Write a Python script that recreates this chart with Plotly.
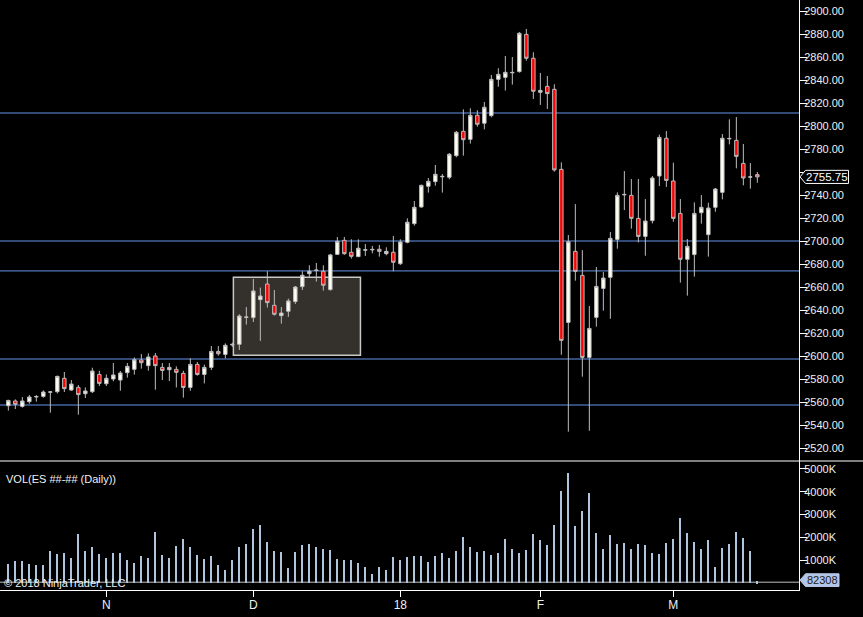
import plotly.graph_objects as go

# ---------------- data ----------------
opens = [2556.8, 2560.9, 2556.2, 2560.3, 2564.3, 2564.9, 2568.5, 2569.0, 2580.6, 2570.4,
         2572.7, 2567.2, 2569.0, 2584.0, 2575.9, 2580.0, 2579.1, 2585.5, 2588.4, 2596.5,
         2591.6, 2600.0, 2590.1, 2588.1, 2588.4, 2584.9, 2572.7, 2592.7, 2584.0, 2590.1,
         2604.0, 2601.4, 2609.6, 2610.2, 2633.5, 2633.4, 2649.0, 2662.6, 2644.1, 2635.1,
         2638.9, 2647.3, 2660.3, 2671.6, 2674.3, 2673.7, 2657.7, 2688.4, 2700.6, 2690.2,
         2686.4, 2692.0, 2692.3, 2692.8, 2689.0, 2690.2, 2680.3, 2698.9, 2715.1, 2729.6,
         2747.6, 2751.6, 2755.8, 2755.4, 2774.2, 2795.4, 2788.4, 2809.3, 2802.4, 2809.0,
         2840.6, 2842.3, 2846.2, 2847.3, 2879.7, 2858.9, 2829.3, 2834.5, 2831.9, 2762.3,
         2629.2, 2691.0, 2670.1, 2598.8, 2633.6, 2658.8, 2668.4, 2701.4, 2740.1, 2739.7,
         2719.7, 2704.0, 2717.7, 2756.5, 2789.3, 2752.2, 2724.0, 2684.1, 2688.2, 2724.6,
         2705.5, 2729.3, 2742.3, 2788.8, 2787.5, 2767.5, 2755.5, 2757.7]
highs = [2561.9, 2562.3, 2564.3, 2566.1, 2566.1, 2570.1, 2569.6, 2582.9, 2586.1, 2579.1,
         2574.8, 2572.7, 2589.8, 2587.2, 2584.0, 2593.9, 2587.0, 2593.9, 2598.8, 2601.7,
         2602.3, 2602.6, 2593.9, 2593.9, 2591.0, 2587.2, 2598.0, 2594.8, 2592.5, 2608.7,
         2608.7, 2611.0, 2611.5, 2636.3, 2642.6, 2667.0, 2659.5, 2673.7, 2657.4, 2642.6,
         2649.9, 2660.9, 2673.7, 2678.9, 2680.9, 2678.9, 2688.8, 2703.5, 2703.5, 2701.5,
         2701.5, 2697.4, 2695.7, 2696.6, 2694.5, 2704.4, 2701.5, 2719.7, 2734.8, 2749.0,
         2754.8, 2766.1, 2758.3, 2776.5, 2795.7, 2814.5, 2815.4, 2813.7, 2820.9, 2844.4,
         2850.2, 2860.9, 2860.0, 2881.8, 2884.4, 2864.1, 2846.1, 2843.5, 2836.3, 2768.4,
         2705.2, 2732.1, 2692.1, 2643.5, 2677.4, 2673.0, 2707.8, 2742.3, 2760.8, 2753.9,
         2753.9, 2736.5, 2756.5, 2792.5, 2795.6, 2768.1, 2736.5, 2701.7, 2733.6, 2740.0,
         2733.3, 2746.1, 2793.0, 2805.8, 2807.8, 2784.3, 2767.8, 2760.0]
lows = [2552.5, 2553.9, 2555.1, 2558.5, 2560.3, 2563.8, 2550.7, 2567.5, 2568.7, 2569.8,
        2549.0, 2563.5, 2567.8, 2573.9, 2573.9, 2578.0, 2569.8, 2581.2, 2583.8, 2589.0,
        2587.2, 2570.7, 2579.1, 2578.2, 2572.7, 2563.8, 2569.8, 2582.9, 2576.2, 2587.8,
        2600.3, 2598.0, 2608.0, 2605.3, 2627.3, 2629.6, 2613.1, 2642.1, 2635.1, 2628.2,
        2634.0, 2645.3, 2657.4, 2668.2, 2664.7, 2656.9, 2656.9, 2687.9, 2687.9, 2684.7,
        2686.4, 2687.0, 2689.3, 2686.4, 2687.6, 2673.7, 2679.2, 2698.0, 2713.4, 2729.0,
        2742.1, 2748.1, 2742.1, 2753.6, 2772.8, 2774.2, 2784.7, 2799.4, 2797.1, 2807.6,
        2834.2, 2830.8, 2836.0, 2846.4, 2856.8, 2823.5, 2818.3, 2814.8, 2760.3, 2601.1,
        2534.2, 2665.5, 2582.0, 2535.0, 2625.5, 2639.4, 2632.4, 2693.3, 2726.9, 2710.7,
        2698.8, 2687.2, 2715.3, 2747.8, 2747.0, 2716.8, 2663.8, 2652.5, 2669.0, 2715.1,
        2686.4, 2725.5, 2736.2, 2784.0, 2763.2, 2748.4, 2745.5, 2750.7]
closes = [2561.4, 2558.0, 2560.9, 2564.3, 2564.8, 2568.7, 2568.8, 2582.3, 2571.6, 2575.6,
          2566.4, 2569.6, 2586.9, 2576.2, 2580.6, 2583.5, 2585.2, 2591.0, 2596.8, 2594.2,
          2599.1, 2591.6, 2587.5, 2590.1, 2585.8, 2572.7, 2592.7, 2584.0, 2590.1, 2604.0,
          2602.0, 2609.3, 2610.1, 2634.8, 2633.9, 2656.6, 2652.2, 2646.4, 2636.3, 2637.4,
          2647.9, 2660.0, 2670.2, 2673.7, 2674.7, 2661.5, 2687.9, 2699.7, 2689.0, 2686.7,
          2693.7, 2692.4, 2692.7, 2691.0, 2691.0, 2681.5, 2699.2, 2716.3, 2729.3, 2748.4,
          2751.9, 2758.0, 2756.2, 2775.4, 2794.5, 2788.1, 2809.3, 2801.5, 2816.3, 2840.6,
          2844.9, 2846.7, 2846.6, 2880.6, 2858.9, 2830.2, 2831.0, 2828.2, 2761.8, 2613.6,
          2699.4, 2673.6, 2598.8, 2624.0, 2660.5, 2667.8, 2702.3, 2739.7, 2740.5, 2719.7,
          2704.0, 2717.4, 2754.8, 2790.1, 2752.7, 2719.7, 2684.1, 2695.3, 2724.0, 2729.3,
          2728.7, 2745.2, 2789.3, 2789.2, 2773.6, 2754.8, 2755.8, 2755.75]
volume_k = [854, 971, 971, 839, 796, 796, 1394, 1277, 1321, 1102, 2153, 1394, 1584, 1277, 1102,
            1321, 1321, 1015, 883, 1190, 1102, 2241, 1234, 1102, 1628, 1934, 1584, 1234, 1058,
            1190, 796, 577, 1015, 1584, 1715, 2372, 2547, 1803, 1394, 1350, 664, 1365, 1672,
            1715, 1584, 1496, 1453, 1058, 1015, 1015, 883, 708, 401, 708, 577, 1146, 1015,
            1146, 1190, 1190, 927,
            1190, 1321, 1102, 1409, 2022, 1584, 1365, 1409, 1234, 1321, 1934, 1496, 1321,
            1453, 2153, 1891, 1672, 2547, 4036, 4825, 2504, 3161, 3949, 2197, 1496, 2109,
            1715, 1759, 1496, 1715, 1672, 1321, 1277, 1759, 1934, 2854, 2197, 1803, 1496,
            1891, 708, 1540, 1715, 2241, 1978, 1409, 82.308]
bar_index = list(range(len(opens)))
month_tick_index = [14, 35, 56, 76, 95]
month_tick_text = ["N", "D", "18", "F", "M"]
price_ticks = list(range(2520, 2901, 20))
vol_ticks = [1000, 2000, 3000, 4000, 5000]
vol_tick_text = ["1000K", "2000K", "3000K", "4000K", "5000K"]
level_lines = [2811.3, 2700, 2674, 2597.4, 2557.4]
zone_x = [32.15, 50.3]
zone_y = [2600.6, 2668.4]
last_price = 2755.75
last_volume = 82308

# ---------------- figure ----------------
W, H = 863, 617
XD = 799 / W
PRICE_BOTTOM = 1 - 461 / H
VOL_BOTTOM = 1 - 590 / H
FONT = "Liberation Sans, Arial, sans-serif"
vols = [v * 1000 for v in volume_k]
# the 2760 label sits under the last-price marker, as in the original
price_tick_text = ["" if t == 2760 else f"{t:.2f}" for t in price_ticks]

fig = go.Figure()
fig.add_trace(go.Candlestick(
    x=bar_index, open=opens, high=highs, low=lows, close=closes,
    increasing=dict(line=dict(color="#bdbdbd", width=1), fillcolor="#fffff2"),
    decreasing=dict(line=dict(color="#bdbdbd", width=1), fillcolor="#ff0000"),
    whiskerwidth=0, xaxis="x", yaxis="y", showlegend=False, hoverinfo="skip"))
fig.add_trace(go.Bar(
    x=bar_index, y=vols, width=0.3, marker=dict(color="#b0c4de", line=dict(width=0)),
    xaxis="x2", yaxis="y2", showlegend=False, hoverinfo="skip"))

shapes = []
for lv in level_lines:
    shapes.append(dict(type="line", xref="paper", yref="y", x0=0, x1=XD, y0=lv, y1=lv,
                       line=dict(color="#6495ed", width=1), layer="below"))
shapes.append(dict(type="rect", xref="x", yref="y", x0=zone_x[0], x1=zone_x[1],
                   y0=zone_y[0], y1=zone_y[1], fillcolor="#34302b",
                   line=dict(color="#c8c8c8", width=1.5), layer="below"))
# panel separator
shapes.append(dict(type="line", xref="paper", yref="paper", x0=0, x1=1,
                   y0=PRICE_BOTTOM, y1=PRICE_BOTTOM, line=dict(color="#ffffff", width=1)))
# volume baseline
shapes.append(dict(type="line", xref="paper", yref="y2", x0=0, x1=XD, y0=40000, y1=40000,
                   line=dict(color="#c0c0c0", width=1), layer="below"))
# last price marker
px_tip, px_l, px_r = 800 / W, 805.5 / W, 848.5 / W
hp = 5.7
shapes.append(dict(type="path", xref="paper", yref="y",
                   path=f"M {px_tip} {last_price} L {px_l} {last_price + hp} L {px_r} {last_price + hp} "
                        f"L {px_r} {last_price - hp} L {px_l} {last_price - hp} Z",
                   fillcolor="#000000", line=dict(color="#ffffff", width=1)))
# last volume marker
vx_r = 839 / W
vc = 130000
hv = 280000
shapes.append(dict(type="path", xref="paper", yref="y2",
                   path=f"M {px_tip} {vc} L {px_l} {vc + hv} L {vx_r} {vc + hv} "
                        f"L {vx_r} {vc - hv} L {px_l} {vc - hv} Z",
                   fillcolor="#b4c6e7", line=dict(color="#b4c6e7", width=1)))

annotations = [
    dict(text=f"{last_price:.2f}", xref="paper", yref="y", x=(px_l + px_r) / 2, y=last_price,
         xanchor="center", yanchor="middle", showarrow=False,
         font=dict(family=FONT, size=11.5, color="#ffffff")),
    dict(text=f"{last_volume}", xref="paper", yref="y2", x=(px_l + vx_r) / 2, y=vc,
         xanchor="center", yanchor="middle", showarrow=False,
         font=dict(family=FONT, size=11, color="#1a1a1a")),
    dict(text="VOL(ES ##-## (Daily))", xref="paper", yref="paper", x=4 / W, y=1 - 479 / H,
         xanchor="left", yanchor="middle", showarrow=False,
         font=dict(family=FONT, size=11, color="#f0f0f0")),
    dict(text="© 2018 NinjaTrader, LLC", xref="paper", yref="paper", x=2 / W, y=1 - 583 / H,
         xanchor="left", yanchor="middle", showarrow=False,
         font=dict(family=FONT, size=11, color="#f0f0f0")),
]

xr = [-1.19, 112.95]
fig.update_layout(
    width=W, height=H, margin=dict(l=0, r=0, t=0, b=0),
    paper_bgcolor="#000000", plot_bgcolor="#000000",
    showlegend=False, boxgap=0.3, bargap=0,
    font=dict(family=FONT, size=11, color="#f0f0f0"),
    shapes=shapes, annotations=annotations,
    xaxis=dict(domain=[0, XD], anchor="y", range=xr, showticklabels=False, showgrid=False,
               zeroline=False, showline=False, ticks="", rangeslider=dict(visible=False),
               matches="x2"),
    xaxis2=dict(domain=[0, XD], anchor="y2", range=xr, tickmode="array",
                tickvals=month_tick_index, ticktext=month_tick_text, ticks="outside",
                ticklen=6, tickcolor="#ffffff", tickwidth=1, showline=True,
                linecolor="#ffffff", linewidth=1, showgrid=False, zeroline=False,
                ticklabelstandoff=-2,
                tickfont=dict(family=FONT, size=12, color="#f0f0f0")),
    yaxis=dict(domain=[PRICE_BOTTOM, 1], anchor="x", side="right",
               range=[2508.7, 2909.57], tickmode="array", tickvals=price_ticks,
               ticktext=price_tick_text, ticks="outside", ticklen=7, tickcolor="#ffffff",
               showline=True, linecolor="#ffffff", linewidth=1, showgrid=False,
               zeroline=False, automargin=False, ticklabelstandoff=-5,
               tickfont=dict(family=FONT, size=11, color="#f0f0f0")),
    yaxis2=dict(domain=[VOL_BOTTOM, PRICE_BOTTOM], anchor="x2", side="right",
                range=[-302000, 5349000], tickmode="array",
                tickvals=[v * 1000 for v in vol_ticks], ticktext=vol_tick_text,
                ticks="outside", ticklen=7, tickcolor="#ffffff", showline=True,
                linecolor="#ffffff", linewidth=1, showgrid=False, zeroline=False,
                automargin=False, ticklabelstandoff=-5,
                tickfont=dict(family=FONT, size=11, color="#f0f0f0")),
)

fig.write_html("out.html", config={"displayModeBar": False},
               post_script="document.body.style.margin='0px';")
